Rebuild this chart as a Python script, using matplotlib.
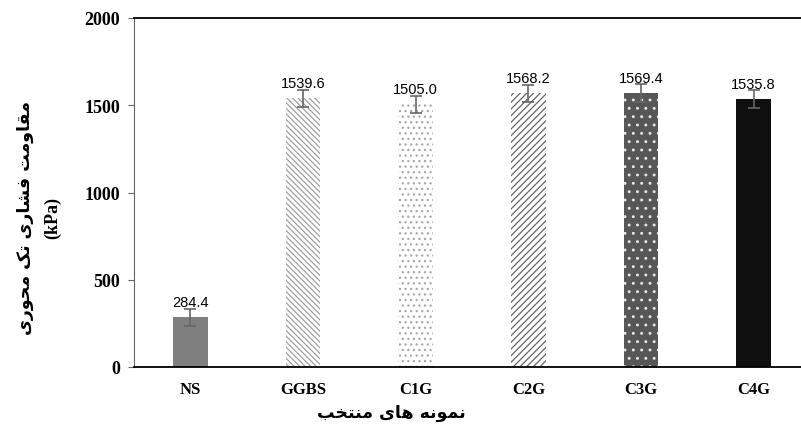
import matplotlib
matplotlib.use("Agg")
import matplotlib.pyplot as plt
import numpy as np

# data
samples = ["NS", "GGBS", "C1G", "C2G", "C3G", "C4G"]
strength = [284.4, 1539.6, 1505.0, 1568.2, 1569.4, 1535.8]
errors = [50, 50, 50, 48, 50, 50]
y_ticks = [0, 500, 1000, 1500, 2000]

ylabel_fa = "مقاومت فشاری تک محوری"
ylabel_unit = "(kPa)"
xlabel_fa = "نمونه های منتخب"

# --- tiny Persian shaper (matplotlib has no Arabic shaping) ---
# letter: (isolated, final, initial, medial); None -> no left join
FORMS = {
    "ا": ("\uFE8D", "\uFE8E", None, None),
    "ب": ("\uFE8F", "\uFE90", "\uFE91", "\uFE92"),
    "ت": ("\uFE95", "\uFE96", "\uFE97", "\uFE98"),
    "ح": ("\uFEA1", "\uFEA2", "\uFEA3", "\uFEA4"),
    "خ": ("\uFEA5", "\uFEA6", "\uFEA7", "\uFEA8"),
    "ر": ("\uFEAD", "\uFEAE", None, None),
    "ش": ("\uFEB5", "\uFEB6", "\uFEB7", "\uFEB8"),
    "ف": ("\uFED1", "\uFED2", "\uFED3", "\uFED4"),
    "ق": ("\uFED5", "\uFED6", "\uFED7", "\uFED8"),
    "م": ("\uFEE1", "\uFEE2", "\uFEE3", "\uFEE4"),
    "ن": ("\uFEE5", "\uFEE6", "\uFEE7", "\uFEE8"),
    "ه": ("\uFEE9", "\uFEEA", "\uFEEB", "\uFEEC"),
    "و": ("\uFEED", "\uFEEE", None, None),
    "ی": ("\uFBFC", "\uFBFD", "\uFBFE", "\uFBFF"),
    "ک": ("\uFB8E", "\uFB8F", "\uFB90", "\uFB91"),
}


def shape(text):
    out = []
    for i, ch in enumerate(text):
        if ch not in FORMS:
            out.append(ch)
            continue
        prev = text[i - 1] if i > 0 else ""
        nxt = text[i + 1] if i + 1 < len(text) else ""
        join_prev = prev in FORMS and FORMS[prev][2] is not None
        join_next = nxt in FORMS and FORMS[ch][2] is not None
        iso, fin, ini, med = FORMS[ch]
        if join_prev and join_next:
            out.append(med)
        elif join_prev:
            out.append(fin)
        elif join_next:
            out.append(ini)
        else:
            out.append(iso)
    return "".join(out)[::-1]


face = ["#7f7f7f", "white", "white", "white", "#575757", "#0f0f0f"]
hatch_col = ["#7f7f7f", "#a0a0a0", "#a8a8a8", "#666666", "#e8e8e8", "#0f0f0f"]
hatches = [None, "\\" * 6, "...", "/" * 5, "..", None]

plt.rcParams["hatch.linewidth"] = 0.9

fig = plt.figure(figsize=(8.01, 4.39), dpi=100)
ax = fig.add_axes([134 / 801, 71 / 439, 676 / 801, 349 / 439])

x = np.arange(len(samples))
for i in range(len(samples)):
    ax.bar(x[i], strength[i], width=0.31, color=face[i], edgecolor=hatch_col[i],
           hatch=hatches[i], linewidth=0, zorder=2)

ax.errorbar(x, strength, yerr=errors, fmt="none", ecolor="#666666",
            elinewidth=1.2, capsize=4, capthick=1.2, zorder=3)

for i in range(len(samples)):
    ax.annotate(f"{strength[i]:.1f}", (x[i], strength[i]), xytext=(0, 8),
                textcoords="offset points", ha="center", va="baseline",
                fontsize=10.5, family="Liberation Sans")

ax.set_xlim(-0.5, 5.5)
ax.set_ylim(0, 2000)
ax.set_yticks(y_ticks)
ax.set_xticks(x)
ax.set_xticklabels(samples)

for lab in ax.get_yticklabels():
    lab.set_fontfamily("Liberation Serif")
    lab.set_fontweight("bold")
    lab.set_fontsize(13)
for lab in ax.get_xticklabels():
    lab.set_fontfamily("Liberation Serif")
    lab.set_fontweight("bold")
    lab.set_fontsize(12)

ax.spines["right"].set_visible(False)
ax.spines["left"].set_color("#666666")
ax.spines["top"].set_color("black")
ax.spines["bottom"].set_color("black")
ax.spines["top"].set_linewidth(1.3)
ax.spines["bottom"].set_linewidth(1.3)
ax.tick_params(axis="y", direction="out", length=4, color="#666666", pad=6)
ax.tick_params(axis="x", length=0, pad=10)

fig.text(25 / 801, 1 - 218 / 439, shape(ylabel_fa), rotation=90, ha="center",
         va="center", fontsize=12.5, fontweight="bold", family="DejaVu Sans")
fig.text(53 / 801, 1 - 218 / 439, ylabel_unit, rotation=90, ha="center",
         va="center", fontsize=13, fontweight="bold", family="Liberation Serif")
fig.text(391 / 801, 1 - 413 / 439, shape(xlabel_fa), ha="center", va="center",
         fontsize=12.5, fontweight="bold", family="DejaVu Sans")

fig.savefig("out.png", dpi=100)
